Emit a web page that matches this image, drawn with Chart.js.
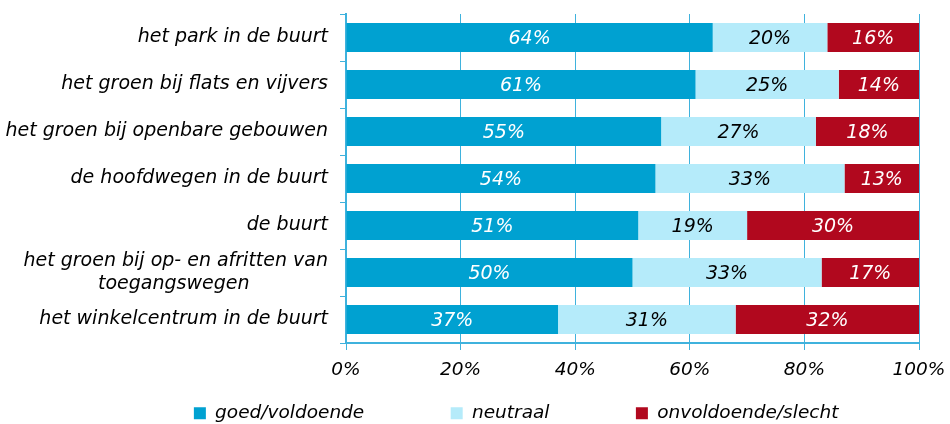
<!DOCTYPE html>
<html>
<head>
<meta charset="utf-8">
<script src="https://cdn.jsdelivr.net/npm/chart.js@4/dist/chart.umd.min.js"></script>
<style>
  html, body { margin: 0; padding: 0; background: #fff; }
</style>
</head>
<body>
<canvas id="buurtChart" width="950" height="424"></canvas>
<script>
var onderdelen = [
    'het park in de buurt',
    'het groen bij flats en vijvers',
    'het groen bij openbare gebouwen',
    'de hoofdwegen in de buurt',
    'de buurt',
    ['het groen bij op- en afritten van', 'toegangswegen             '],
    'het winkelcentrum in de buurt'
];
var goed = [64, 61, 55, 54, 51, 50, 37];
var neutraal = [20, 25, 27, 33, 19, 33, 31];
var slecht = [16, 14, 18, 13, 30, 17, 32];
var xTicks = [0, 20, 40, 60, 80, 100];

var lijnKleur = '#3fb2dd';
var letter = 'DejaVu Sans';

// percentages midden in elke balk
var balkLabels = {
    id: 'balkLabels',
    afterDatasetsDraw: function (chart) {
        var ctx = chart.ctx;
        ctx.save();
        ctx.font = 'italic 19px "' + letter + '"';
        ctx.textAlign = 'center';
        ctx.textBaseline = 'middle';
        chart.data.datasets.forEach(function (ds, i) {
            var meta = chart.getDatasetMeta(i);
            meta.data.forEach(function (bar, j) {
                ctx.fillStyle = ds.labelColor;
                ctx.fillText(ds.data[j] + '%', (bar.x + bar.base) / 2, bar.y + 2);
            });
        });
        ctx.restore();
    }
};

// legenda minder hoog maken zodat hij onderaan staat
var legendaHoogte = {
    id: 'legendaHoogte',
    afterInit: function (chart) {
        if (!chart.legend) return;
        var fit = chart.legend.fit;
        chart.legend.fit = function () {
            fit.call(this);
            this.height = 30;
        };
    }
};

var ctx = document.getElementById('buurtChart').getContext('2d');

var myChart = new Chart(ctx, {
    type: 'bar',
    data: {
        labels: onderdelen,
        datasets: [{
            label: 'goed/voldoende',
            data: goed,
            backgroundColor: '#00a1d1',
            labelColor: '#ffffff'
        }, {
            label: 'neutraal',
            data: neutraal,
            backgroundColor: '#b5ebfa',
            labelColor: '#000000'
        }, {
            label: 'onvoldoende/slecht',
            data: slecht,
            backgroundColor: '#b1081e',
            labelColor: '#ffffff'
        }]
    },
    options: {
        indexAxis: 'y',
        responsive: false,
        animation: false,
        barPercentage: 0.62,
        categoryPercentage: 1,
        layout: {
            padding: { top: 14, right: 31, left: 0, bottom: 0 }
        },
        scales: {
            x: {
                stacked: true,
                min: 0,
                max: 100,
                afterBuildTicks: function (scale) {
                    scale.ticks = xTicks.map(function (v) { return { value: v }; });
                },
                afterFit: function (scale) {
                    scale.height = 51;
                    scale.paddingLeft = 0;
                    scale.paddingRight = 0;
                },
                ticks: {
                    color: '#000',
                    font: { family: letter, size: 18.5, style: 'italic' },
                    padding: 9,
                    maxRotation: 0,
                    callback: function (v) { return v + '%'; }
                },
                grid: {
                    color: lijnKleur,
                    lineWidth: 1,
                    tickLength: 7
                },
                border: { color: lijnKleur, width: 2 }
            },
            y: {
                stacked: true,
                afterFit: function (scale) {
                    scale.width = 346;
                    scale.paddingTop = 0;
                    scale.paddingBottom = 0;
                },
                ticks: {
                    color: '#000',
                    font: { family: letter, size: 19, style: 'italic' },
                    padding: 12,
                    autoSkip: false
                },
                grid: {
                    color: lijnKleur,
                    drawOnChartArea: false,
                    offset: true,
                    tickLength: 6
                },
                border: { color: lijnKleur, width: 2 }
            }
        },
        plugins: {
            legend: {
                position: 'bottom',
                align: 'end',
                labels: {
                    color: '#000',
                    font: { family: letter, size: 18.5, style: 'italic' },
                    boxWidth: 12,
                    boxHeight: 12,
                    padding: 10,
                    generateLabels: function (chart) {
                        var items = Chart.defaults.plugins.legend.labels.generateLabels(chart);
                        items.forEach(function (item, i) {
                            if (i < items.length - 1) item.text += '             ';
                            else item.text += '            ';
                        });
                        return items;
                    }
                }
            },
            tooltip: { enabled: false }
        }
    },
    plugins: [balkLabels, legendaHoogte]
});
</script>
</body>
</html>
